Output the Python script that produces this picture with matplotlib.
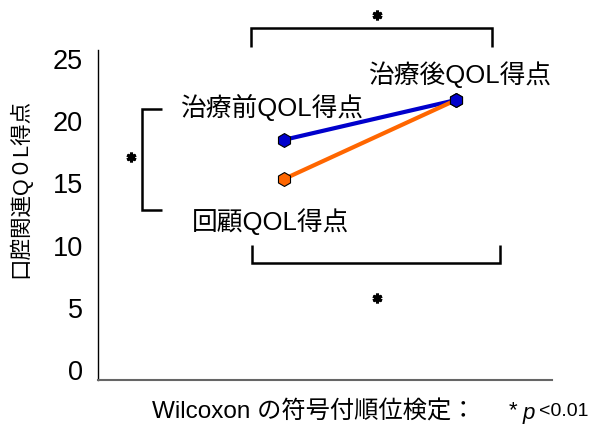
import matplotlib
matplotlib.use("Agg")
import matplotlib.pyplot as plt

# Data
timepoints = [1, 2]
pre_scores = [18.5, 21.7]       # 治療前QOL得点 -> 治療後
recall_scores = [15.35, 21.7]   # 回顧QOL得点 -> 治療後
yticks = [0, 5, 10, 15, 20, 25]

plt.rcParams['font.family'] = ['Liberation Sans', 'Noto Sans CJK JP', 'DejaVu Sans']

W, H = 589, 424
fig = plt.figure(figsize=(W / 100, H / 100), dpi=100)
fig.patch.set_facecolor('white')

def fx(px):
    return px / W

def fy(py):
    return 1 - py / H

ax = fig.add_axes([fx(98), fy(380), fx(552) - fx(98), fy(50) - fy(380)])
ax.set_xlim(-0.081, 2.558)
ax.set_ylim(-0.80, 25.72)

for s in ['top', 'right']:
    ax.spines[s].set_visible(False)
ax.spines['left'].set_color('black')
ax.spines['left'].set_linewidth(1.0)
ax.spines['bottom'].set_color('#666666')
ax.spines['bottom'].set_linewidth(1.5)
ax.set_xticks([])
ax.set_yticks(yticks)
ax.set_yticklabels([str(t) for t in yticks])
ax.tick_params(axis='y', length=0, pad=11, labelsize=19.5)

blue = '#0000CC'
orange = '#FF6600'
ax.plot(timepoints, pre_scores, color=blue, lw=3, zorder=2)
ax.plot(timepoints, recall_scores, color=orange, lw=3, zorder=3)
ax.plot(timepoints, recall_scores, ls='none', marker='h', ms=10, mfc=orange,
        mec='black', mew=0.8, zorder=4)
ax.plot(timepoints, pre_scores, ls='none', marker='h', ms=10, mfc=blue,
        mec='black', mew=0.8, zorder=5)

# brackets (data coordinates)
def bracket(xs, ys):
    ax.plot(xs, ys, color='black', lw=1.8, clip_on=False, solid_capstyle='butt',
            solid_joinstyle='miter')

def star(x, y):
    ax.plot([x], [y], ls='none', marker=(6, 2, 0), ms=7, mew=2.2, color='black',
            clip_on=False)

# top bracket
bracket([0.808, 0.808, 2.209, 2.209], [25.96, 27.49, 27.49, 25.96])
star(1.54, 28.54)
# bottom bracket
bracket([0.814, 0.814, 2.256, 2.256], [10.05, 8.60, 8.60, 10.05])
star(1.54, 5.79)
# left bracket
bracket([0.291, 0.174, 0.174, 0.291], [20.98, 20.98, 12.86, 12.86])
star(0.110, 17.12)

# labels
fig.text(fx(460), fy(75), '治療後QOL得点', fontsize=18.5, ha='center', va='center')
fig.text(fx(272), fy(107), '治療前QOL得点', fontsize=18.5, ha='center', va='center')
fig.text(fx(271), fy(222), '回顧QOL得点', fontsize=18.5, ha='center', va='center')

fig.text(fx(20), fy(188), '口腔関連Q０L得点', fontsize=15.5, rotation=90,
         ha='center', va='center')

# footnote
fig.text(fx(152), fy(412), 'Wilcoxon の符号付順位検定：', fontsize=17.5,
         ha='left', va='center')
fig.text(fx(513), fy(411), '*', fontsize=16, ha='center', va='center')
fig.text(fx(529), fy(413), 'p', fontsize=16, style='italic', ha='center', va='center')
fig.text(fx(539), fy(412), '<0.01', fontsize=14, ha='left', va='center')

fig.savefig('out.png', dpi=100, facecolor='white')
